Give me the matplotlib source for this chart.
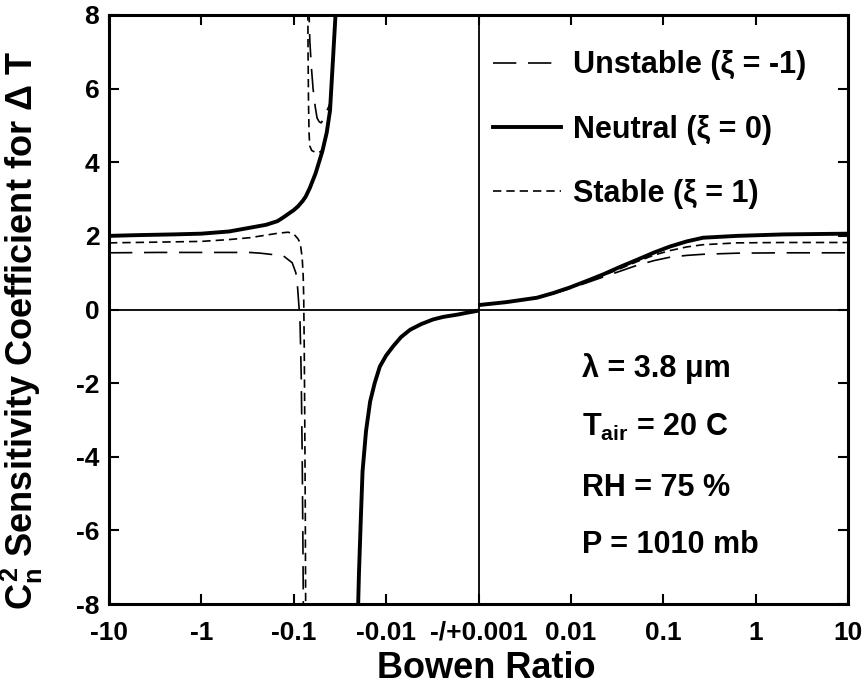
import numpy as np
import matplotlib
matplotlib.use("Agg")
import matplotlib.pyplot as plt
from matplotlib.lines import Line2D

plt.rcParams['font.family'] = ['Liberation Sans', 'DejaVu Sans']
plt.rcParams['font.weight'] = 'bold'
plt.rcParams['axes.unicode_minus'] = False
plt.rcParams['mathtext.fontset'] = 'custom'
plt.rcParams['mathtext.rm'] = 'Liberation Sans:bold'
plt.rcParams['mathtext.it'] = 'Liberation Sans:bold'
plt.rcParams['mathtext.bf'] = 'Liberation Sans:bold'

# ---------------- data (Bowen ratio, sensitivity coefficient) ----------------
neutral_left_B = [-10, -5, -2, -1, -0.5, -0.3, -0.2, -0.15, -0.13, -0.1, -0.09, -0.08,
                  -0.0745, -0.067, -0.058, -0.049, -0.044, -0.0405, -0.0376, -0.0355, -0.0345]
neutral_left_C = [2.00, 2.02, 2.04, 2.06, 2.12, 2.22, 2.30, 2.40, 2.50, 2.70, 2.80, 2.95,
                  3.06, 3.30, 3.70, 4.30, 4.80, 5.40, 6.80, 7.90, 8.50]

neutral_low_B = [-0.0203, -0.0197, -0.0188, -0.0180, -0.0165, -0.0149, -0.0133, -0.0117,
                 -0.0100, -0.0084, -0.0069, -0.0055, -0.0042, -0.0031, -0.0024, -0.0017,
                 -0.00135, -0.0011, -0.001]
neutral_low_C = [-8.5, -7.2, -5.7, -4.4, -3.3, -2.5, -2.0, -1.55, -1.25, -1.0, -0.75, -0.55,
                 -0.40, -0.27, -0.20, -0.14, -0.09, -0.05, -0.03]

right_B = [0.001, 0.002, 0.0043, 0.0065, 0.0098, 0.015, 0.0222, 0.035, 0.052, 0.08,
           0.118, 0.18, 0.27, 0.63, 2, 10]
neutral_right_C = [0.12, 0.20, 0.32, 0.45, 0.60, 0.78, 0.95, 1.17, 1.35, 1.55,
                   1.71, 1.85, 1.95, 2.00, 2.04, 2.06]
stable_right_C = [0.12, 0.20, 0.32, 0.45, 0.59, 0.76, 0.92, 1.12, 1.30, 1.48,
                  1.60, 1.70, 1.76, 1.81, 1.82, 1.82]
unstable_right_C = [0.12, 0.20, 0.31, 0.43, 0.57, 0.73, 0.88, 1.05, 1.20, 1.33,
                    1.42, 1.47, 1.50, 1.53, 1.54, 1.54]

stable_left_B = [-10, -3, -1, -0.5, -0.3, -0.2, -0.15, -0.115, -0.1, -0.09, -0.085,
                 -0.081, -0.079, -0.078, -0.077, -0.076, -0.075, -0.0742]
stable_left_C = [1.81, 1.83, 1.85, 1.90, 1.95, 2.02, 2.07, 2.10, 2.05, 1.92, 1.80,
                 1.40, 0.90, 0.30, -1.0, -3.0, -5.5, -8.5]
stable_up_B = [-0.0705, -0.0700, -0.0692, -0.0683, -0.0672, -0.064, -0.0595, -0.054,
               -0.049, -0.044, -0.0405, -0.0376, -0.0355, -0.0345]
stable_up_C = [8.5, 7.0, 5.6, 4.8, 4.45, 4.32, 4.28, 4.26, 4.32, 4.85, 5.45, 6.85, 7.95, 8.5]

unstable_left_B = [-10, -3, -1, -0.3, -0.23, -0.13, -0.104, -0.095, -0.092, -0.0885,
                   -0.0856, -0.083, -0.081, -0.0795, -0.0785]
unstable_left_C = [1.54, 1.55, 1.55, 1.55, 1.53, 1.46, 1.27, 1.00, 0.78, 0.20,
                   -0.30, -1.8, -4.0, -6.5, -8.5]
unstable_up_B = [-0.0690, -0.0680, -0.0670, -0.0645, -0.0618, -0.0585, -0.0559, -0.053,
                 -0.0506, -0.0475, -0.0447, -0.042, -0.0405, -0.039, -0.0376, -0.0355, -0.0345]
unstable_up_C = [8.5, 7.9, 7.3, 6.6, 6.0, 5.5, 5.2, 5.1, 5.07, 5.17, 5.35, 5.5, 5.6,
                 6.1, 6.85, 7.95, 8.5]

x_ticks = [-10, -1, -0.1, -0.01, 0, 0.01, 0.1, 1, 10]
x_tick_labels = ['-10', '-1', '-0.1', '-0.01', '-/+0.001', '0.01', '0.1', '1', '10']
y_ticks = [-8, -6, -4, -2, 0, 2, 4, 6, 8]

labels = ['Unstable (ξ = -1)', 'Neutral (ξ = 0)', 'Stable (ξ = 1)']
notes = ['λ = 3.8 μm', 'T$_{air}$ = 20 C', 'RH = 75 %', 'P = 1010 mb']
note_y = [-1.6, -3.2, -4.85, -6.4]

# ---------------- scale: symmetric log around +/-0.001 ----------------
def fwd(b):
    b = np.asarray(b, dtype=float)
    return np.sign(b) * (np.log10(np.maximum(np.abs(b), 1e-3)) + 3)

def inv(p):
    p = np.asarray(p, dtype=float)
    return np.sign(p) * 10 ** (np.abs(p) - 3)

fig = plt.figure(figsize=(8.67, 6.87), dpi=100)
ax = fig.add_axes([109 / 867, 1 - 604 / 687, (848 - 109) / 867, (604 - 15) / 687])
ax.set_xscale('function', functions=(fwd, inv))
ax.set_xlim(-10, 10)
ax.set_ylim(-8, 8)

lw_thin = 1.2
long_dash = (14, 7)
short_dash = (5, 3)

ax.axhline(0, color='black', lw=1.3, zorder=1)
ax.axvline(0, color='black', lw=1.3, zorder=1)

for xs, ys in [(neutral_left_B, neutral_left_C), (neutral_low_B, neutral_low_C),
               (right_B, neutral_right_C)]:
    ax.plot(xs, ys, color='black', lw=2.8, solid_capstyle='butt', zorder=3)

for xs, ys in [(stable_left_B, stable_left_C), (stable_up_B, stable_up_C),
               (right_B, stable_right_C)]:
    ax.plot(xs, ys, color='black', lw=lw_thin, dashes=short_dash, zorder=4)

for xs, ys in [(unstable_left_B, unstable_left_C), (unstable_up_B, unstable_up_C),
               (right_B, unstable_right_C)]:
    ax.plot(xs, ys, color='black', lw=lw_thin, dashes=long_dash, zorder=4)

ax.set_xticks(x_ticks)
ax.set_xticklabels(x_tick_labels)
ax.set_yticks(y_ticks)
ax.set_yticklabels([str(v) for v in y_ticks])
ax.xaxis.set_minor_locator(matplotlib.ticker.NullLocator())
ax.tick_params(direction='in', top=True, right=True, length=7, width=1.5,
               labelsize=19)
ax.tick_params(axis='x', pad=12)
ax.tick_params(axis='y', pad=7)
for s in ax.spines.values():
    s.set_linewidth(2.2)

ax.set_xlabel('Bowen Ratio', fontsize=26, fontweight='bold')
ax.xaxis.set_label_coords(0.51, -0.08)
ax.set_ylabel('$C_n^2$ Sensitivity Coefficient for Δ T', fontsize=26, fontweight='bold')
ax.yaxis.set_label_coords(-0.086, 0.465)

handles = [Line2D([], [], color='black', lw=lw_thin, dashes=long_dash),
           Line2D([], [], color='black', lw=2.8),
           Line2D([], [], color='black', lw=lw_thin, dashes=short_dash)]
ax.legend(handles, labels, loc='upper left', bbox_to_anchor=(0.52, 0.94),
          frameon=False, handlelength=2.2, handletextpad=0.42,
          labelspacing=1.12, borderpad=0, borderaxespad=0,
          prop={'weight': 'bold', 'size': 22})

tr = ax.get_yaxis_transform()
for txt, yv in zip(notes, note_y):
    ax.text(0.64, yv, txt, transform=tr, fontsize=22, fontweight='bold',
            ha='left', va='center')

fig.savefig('out.png', dpi=100)
